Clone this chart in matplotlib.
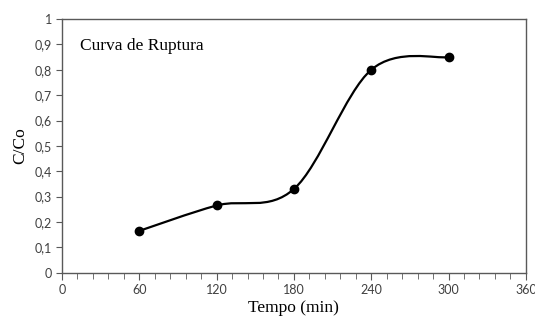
import numpy as np
import matplotlib.pyplot as plt
from matplotlib.path import Path
from matplotlib.patches import PathPatch
from matplotlib.ticker import MultipleLocator

# dados da curva de ruptura
tempo = [60, 120, 180, 240, 300]
c_co = [0.165, 0.265, 0.33, 0.80, 0.85]

x_ticks = [0, 60, 120, 180, 240, 300, 360]
y_ticks = [0, 0.1, 0.2, 0.3, 0.4, 0.5, 0.6, 0.7, 0.8, 0.9, 1.0]
y_labels = ['0', '0,1', '0,2', '0,3', '0,4', '0,5', '0,6', '0,7', '0,8', '0,9', '1']


def curva_suave(xs, ys):
    # curva suavizada estilo Excel (Bezier cubica entre os pontos)
    pts = np.column_stack([xs, ys])
    n = len(pts)
    verts = [pts[0]]
    codes = [Path.MOVETO]
    for i in range(n - 1):
        p0 = pts[i - 1] if i > 0 else pts[i]
        p1 = pts[i]
        p2 = pts[i + 1]
        p3 = pts[i + 2] if i + 2 < n else pts[i + 1]
        c1 = p1 + (p2 - p0) / 6.0
        c2 = p2 - (p3 - p1) / 6.0
        verts += [c1, c2, p2]
        codes += [Path.CURVE4] * 3
    return Path(verts, codes)


fig = plt.figure(figsize=(5.35, 3.23), dpi=100)
ax = fig.add_axes([0.1159, 0.1557, 0.867, 0.7853])

cinza = '#595959'
ax.add_patch(PathPatch(curva_suave(tempo, c_co), facecolor='none',
                       edgecolor='black', lw=1.6, zorder=2))
ax.plot(tempo, c_co, 'o', color='black', ms=6, zorder=3)

ax.set_xlim(0, 360)
ax.set_ylim(0, 1)
ax.set_xticks(x_ticks)
ax.set_xticklabels([str(v) for v in x_ticks], family='Lato')
ax.set_yticks(y_ticks)
ax.set_yticklabels(y_labels, family='Lato')
ax.xaxis.set_minor_locator(MultipleLocator(12))

for s in ax.spines.values():
    s.set_color(cinza)
    s.set_linewidth(1.0)

ax.tick_params(axis='both', which='both', direction='out', color=cinza,
               labelsize=9, labelcolor='#404040')
ax.tick_params(axis='x', which='major', length=5, pad=3)
ax.tick_params(axis='x', which='minor', length=4)
ax.tick_params(axis='y', which='major', length=4, pad=3)

ax.set_xlabel('Tempo (min)', family='Liberation Serif', fontsize=12.5, labelpad=3)
ax.set_ylabel('C/Co', family='Liberation Serif', fontsize=12.5, labelpad=5)

ax.text(14, 0.894, 'Curva de Ruptura', family='Liberation Serif',
        fontsize=12.5, va='center', ha='left')

fig.savefig('out.png', dpi=100)
